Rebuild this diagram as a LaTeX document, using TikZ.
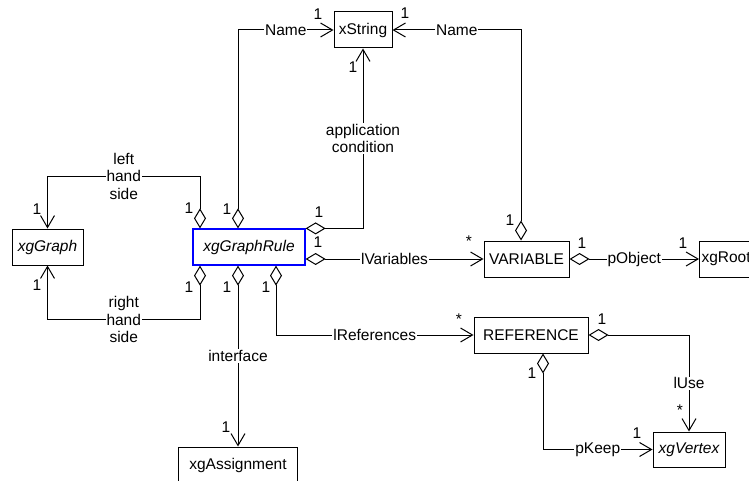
\documentclass[tikz,border=0pt]{standalone}
\usepackage{fontspec}
\setmainfont{Liberation Sans}
\usetikzlibrary{arrows.meta}
\begin{document}
\begin{tikzpicture}[x=1pt,y=-1pt,
    font=\fontsize{15.5}{17.5}\selectfont,
    cls/.style={draw, line width=1pt, minimum height=36pt, inner sep=2pt},
    agg/.style={line width=1pt, {Diamond[open,length=20pt,width=12pt]}-{Straight Barb[length=12pt,width=14pt]}},
    role/.style={fill=white, inner sep=1pt, align=center},
    mult/.style={inner sep=0pt}]
  \useasboundingbox (0,0) rectangle (749,481);
  \node[cls, minimum width=58pt] (str) at (363,30) {xString};
  \node[cls, minimum width=71pt] (graph) at (47.5,247) {\itshape xgGraph};
  \node[cls, minimum width=112pt, draw=blue, line width=1.2pt] (rule) at (249,247) {\itshape xgGraphRule};
  \node[cls, minimum width=119pt] (assign) at (238,465) {xgAssignment};
  \node[cls, minimum width=85pt] (var) at (526.5,259) {VARIABLE};
  \node[cls, anchor=west] (root) at (699,259) {xgRoot};
  \node[cls, minimum width=114pt] (ref) at (531,335) {REFERENCE};
  \node[cls, minimum width=72pt, minimum height=35pt] (vtx) at (689,449.5) {\itshape xgVertex};
  \draw[agg] ([xshift=-11pt]rule.north) |- node[role,pos=.75] (nm1) {Name} (str.west);
  \draw[agg] ([xshift=-5.5pt]var.north) |- node[role,pos=.75] (nm2) {Name} (str.east);
  \draw[agg] (rule.north east) -| node[role,pos=.75] (app) {application\\condition} (str.south);
  \draw[agg] ([yshift=-12pt]rule.east) -- node[role] (lv) {lVariables} (var.west);
  \draw[agg] ([xshift=-49pt]rule.north) -- ++(0,-52) -| node[role,pos=.25] (lhs) {left\\hand\\side} (graph.north);
  \draw[agg] ([xshift=-49pt]rule.south) -- ++(0,54) -| node[role,pos=.25] (rhs) {right\\hand\\side} (graph.south);
  \draw[agg] ([xshift=-11pt]rule.south) -- node[role] (ifc) {interface} (assign.north);
  \draw[agg] ([xshift=27pt]rule.south) |- node[role,pos=.75] (lr) {lReferences} (ref.west);
  \draw[agg] (ref.east) -| node[role,pos=.75] (lu) {lUse} (vtx.north);
  \draw[agg] ([xshift=12pt]ref.south) |- node[role,pos=.75] (pk) {pKeep} (vtx.west);
  \draw[agg] (var.east) -- node[role] (po) {pObject} (root.west);
  \foreach \x/\y/\m [count=\i] in {318/14/1, 353/67/1, 405/13/1, 37/209/1, 189/208/1,
      227/209/1, 319/212/1, 318/242/1, 510/220/1, 469/241/*, 582/243/1, 683/243/1,
      37/285/1, 189/287/1, 227/287/1, 266/287/1, 226/427/1, 459/319/*, 602/319/1,
      532/373/1, 680/410/*, 637/433/1}
    \node[mult] (m\i) at (\x,\y) {\m};
\end{tikzpicture}
\end{document}
